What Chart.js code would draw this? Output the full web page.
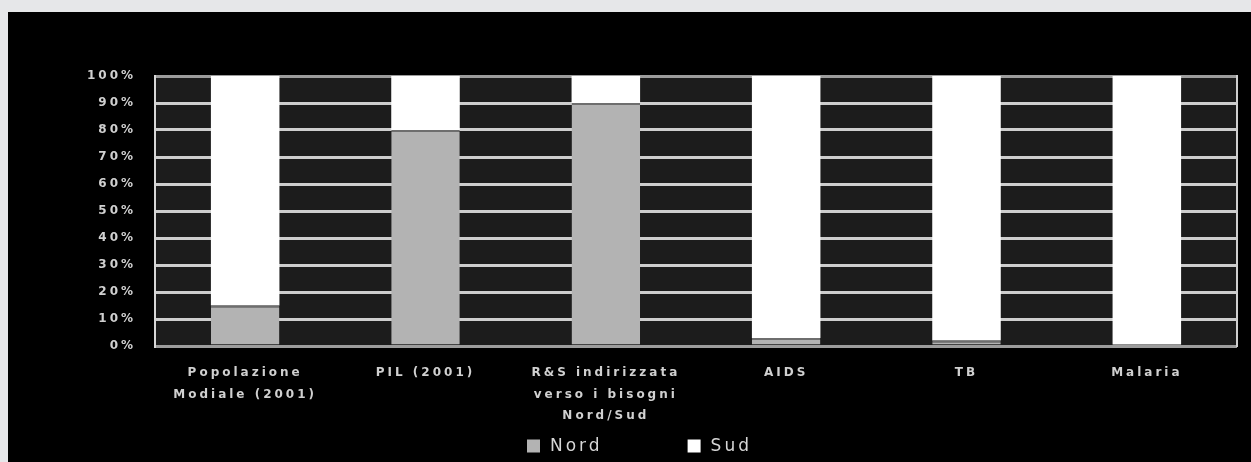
<!DOCTYPE html>
<html>
<head>
<meta charset="utf-8">
<script src="https://cdn.jsdelivr.net/npm/chart.js@4/dist/chart.umd.min.js"></script>
<style>
  html, body { margin: 0; padding: 0; background: #e6e7e9; }
  #frame { position: absolute; left: 8px; top: 12px; width: 1243px; height: 450px; background: #000; }
  #chart { display: block; }
</style>
</head>
<body>
<div id="frame"><canvas id="chart" width="1243" height="450"></canvas></div>
<script>
// Categories (multi-line labels as arrays)
const categories = [
  ['Popolazione', 'Modiale (2001)'],
  'PIL (2001)',
  ['R&S indirizzata', 'verso i bisogni', 'Nord/Sud'],
  'AIDS',
  'TB',
  'Malaria'
];
// Share of each total, in percent
const nordValues = [15, 80, 90, 3, 2, 0];
const sudValues  = [85, 20, 10, 97, 98, 100];
const seriesNames = ['Nord', 'Sud'];
const yTicks = [0, 10, 20, 30, 40, 50, 60, 70, 80, 90, 100];

const FONT = '"DejaVu Sans", sans-serif';

// Dark plot background, wide letter spacing for all canvas text
const plotBackground = {
  id: 'plotBackground',
  beforeDraw(chart) {
    const { ctx, chartArea: a } = chart;
    ctx.letterSpacing = '3px';
    ctx.save();
    ctx.fillStyle = '#1c1c1c';
    ctx.fillRect(a.left, a.top, a.right - a.left, a.bottom - a.top);
    ctx.restore();
  }
};

// Right frame line of the plot area
const rightFrame = {
  id: 'rightFrame',
  afterDatasetsDraw(chart) {
    const { ctx, chartArea: a } = chart;
    ctx.save();
    ctx.strokeStyle = '#cfcfcf';
    ctx.lineWidth = 2;
    ctx.beginPath();
    ctx.moveTo(a.right, a.top - 1);
    ctx.lineTo(a.right, a.bottom + 1);
    ctx.stroke();
    ctx.restore();
  }
};

// Legend under the axis labels, built from the datasets
const bottomLegend = {
  id: 'bottomLegend',
  afterDraw(chart) {
    const { ctx } = chart;
    const y = 434;
    const box = 13;
    const itemGap = 85;
    ctx.save();
    ctx.letterSpacing = '3px';
    ctx.font = '17px ' + FONT;
    ctx.textBaseline = 'middle';
    ctx.textAlign = 'left';
    let x = 519;
    chart.data.datasets.forEach((ds) => {
      ctx.fillStyle = ds.backgroundColor;
      ctx.fillRect(x, y - box / 2, box, box);
      x += box + 10;
      ctx.fillStyle = '#d6d6d6';
      ctx.fillText(ds.label, x, y + 1);
      x += ctx.measureText(ds.label).width + itemGap;
    });
    ctx.restore();
  }
};

new Chart(document.getElementById('chart'), {
  type: 'bar',
  data: {
    labels: categories,
    datasets: [
      {
        label: seriesNames[0],
        data: nordValues,
        backgroundColor: '#b3b3b3',
        borderColor: '#6e6e6e',
        borderWidth: { top: 2, left: 0, right: 0, bottom: 0 },
        borderSkipped: false
      },
      {
        label: seriesNames[1],
        data: sudValues,
        backgroundColor: '#ffffff',
        borderWidth: 0
      }
    ]
  },
  options: {
    responsive: false,
    animation: false,
    events: [],
    datasets: { bar: { categoryPercentage: 1, barPercentage: 0.38 } },
    layout: { padding: { top: 64, right: 14, left: 0, bottom: 0 } },
    plugins: { legend: { display: false }, tooltip: { enabled: false } },
    scales: {
      x: {
        stacked: true,
        grid: { display: false },
        border: { display: false },
        ticks: {
          color: '#d0d0d0',
          font: { family: FONT, size: 12, weight: 'bold', lineHeight: 1.8 },
          padding: 8,
          maxRotation: 0,
          autoSkip: false
        },
        afterFit(scale) { scale.height = 116; }
      },
      y: {
        stacked: true,
        min: 0,
        max: 100,
        afterBuildTicks(scale) { scale.ticks = yTicks.map(v => ({ value: v })); },
        grid: {
          color: (c) => (c.tick && (c.tick.value === 0 || c.tick.value === 100)) ? '#9c9c9c' : '#cdcdcd',
          lineWidth: 3,
          drawTicks: false
        },
        border: { display: true, color: '#d8d8d8', width: 2 },
        ticks: {
          color: '#d0d0d0',
          font: { family: FONT, size: 12, weight: 'bold' },
          padding: 19,
          callback: (v) => v + '%'
        },
        afterFit(scale) { scale.width = 147; }
      }
    }
  },
  plugins: [plotBackground, rightFrame, bottomLegend]
});
</script>
</body>
</html>
